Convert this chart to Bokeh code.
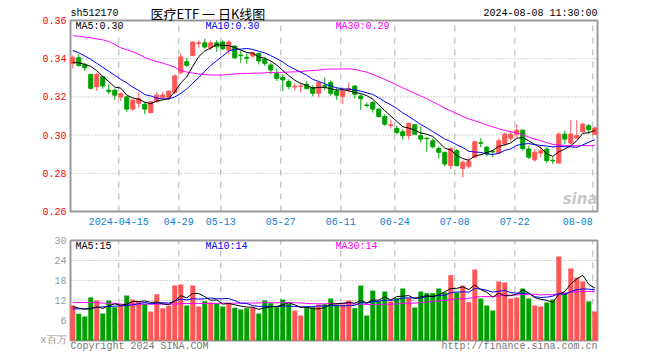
import numpy as np
import pandas as pd
from bokeh.plotting import figure
from bokeh.models import Range1d, Label, ColumnDataSource
from bokeh.core.properties import value
from bokeh.embed import file_html
from bokeh.resources import INLINE

# ---------------- data ----------------
opens = [0.3374,0.3405,0.3370,0.3318,0.3254,0.3306,0.3235,0.3235,0.3200,0.3200,
         0.3136,0.3167,0.3162,0.3118,0.3174,0.3197,0.3197,0.3223,0.3327,0.3384,
         0.3417,0.3480,0.3483,0.3457,0.3483,0.3487,0.3445,0.3466,0.3419,0.3407,
         0.3414,0.3428,0.3397,0.3367,0.3322,0.3301,0.3280,0.3252,0.3254,0.3266,
         0.3249,0.3219,0.3259,0.3275,0.3231,0.3202,0.3237,0.3257,0.3205,0.3158,
         0.3170,0.3136,0.3097,0.3050,0.3035,0.3017,0.2997,0.3054,0.2997,0.2984,
         0.2970,0.2930,0.2910,0.2840,0.2918,0.2826,0.2837,0.2884,0.2960,0.2936,
         0.2915,0.2906,0.2953,0.2983,0.3005,0.3026,0.2927,0.2871,0.2906,0.2927,
         0.2868,0.2854,0.3005,0.2958,0.2984,0.3017,0.3049,0.3005]
highs = [0.3417,0.3423,0.3379,0.3318,0.3327,0.3310,0.3266,0.3243,0.3223,0.3205,
         0.3188,0.3226,0.3174,0.3179,0.3226,0.3226,0.3235,0.3317,0.3428,0.3405,
         0.3492,0.3496,0.3504,0.3496,0.3497,0.3497,0.3496,0.3470,0.3440,0.3428,
         0.3435,0.3431,0.3410,0.3379,0.3348,0.3318,0.3292,0.3271,0.3275,0.3283,
         0.3261,0.3278,0.3301,0.3287,0.3249,0.3249,0.3275,0.3261,0.3214,0.3170,
         0.3179,0.3139,0.3110,0.3080,0.3049,0.3031,0.3066,0.3057,0.3045,0.2988,
         0.2983,0.2941,0.2913,0.2936,0.2927,0.2866,0.2884,0.2970,0.2983,0.2944,
         0.2924,0.2983,0.3014,0.3023,0.3057,0.3028,0.2944,0.2927,0.2944,0.2936,
         0.2884,0.3014,0.3023,0.3078,0.3078,0.3066,0.3057,0.3045]
lows = [0.3348,0.3358,0.3336,0.3240,0.3231,0.3243,0.3214,0.3184,0.3179,0.3122,
        0.3127,0.3144,0.3110,0.3113,0.3170,0.3188,0.3184,0.3214,0.3318,0.3358,
        0.3414,0.3457,0.3452,0.3445,0.3435,0.3445,0.3423,0.3400,0.3379,0.3374,
        0.3405,0.3370,0.3362,0.3318,0.3283,0.3231,0.3240,0.3235,0.3223,0.3240,
        0.3202,0.3197,0.3235,0.3205,0.3184,0.3162,0.3223,0.3191,0.3132,0.3144,
        0.3118,0.3092,0.3049,0.3035,0.3005,0.2976,0.2976,0.3000,0.2962,0.2913,
        0.2930,0.2878,0.2837,0.2823,0.2837,0.2779,0.2826,0.2878,0.2936,0.2889,
        0.2884,0.2901,0.2941,0.2965,0.2988,0.2918,0.2875,0.2861,0.2884,0.2854,
        0.2849,0.2849,0.2953,0.2953,0.2979,0.3014,0.3005,0.3000]
closes = [0.3405,0.3365,0.3353,0.3245,0.3318,0.3257,0.3228,0.3209,0.3217,0.3136,
          0.3183,0.3191,0.3136,0.3174,0.3209,0.3210,0.3230,0.3310,0.3409,0.3365,
          0.3487,0.3483,0.3461,0.3483,0.3463,0.3452,0.3487,0.3405,0.3416,0.3403,
          0.3431,0.3388,0.3376,0.3341,0.3297,0.3289,0.3254,0.3256,0.3257,0.3243,
          0.3219,0.3275,0.3256,0.3219,0.3209,0.3231,0.3243,0.3214,0.3191,0.3155,
          0.3136,0.3097,0.3057,0.3054,0.3014,0.2997,0.3061,0.3005,0.2979,0.2981,
          0.2939,0.2910,0.2849,0.2930,0.2840,0.2858,0.2863,0.2965,0.2957,0.2901,
          0.2912,0.2970,0.3005,0.3005,0.3026,0.2930,0.2884,0.2910,0.2918,0.2866,
          0.2865,0.3005,0.2979,0.3005,0.2997,0.3057,0.3028,0.3037]
volumes = [10.5,8.0,7.2,12.9,12.0,8.1,12.0,10.0,10.8,13.5,
           12.3,11.7,11.0,8.7,13.9,9.7,10.4,16.5,16.8,10.5,
           16.5,10.2,11.8,11.4,11.0,10.2,11.2,9.8,9.3,9.7,
           9.8,8.1,12.0,11.2,10.0,12.3,11.0,9.0,7.5,10.2,
           10.0,10.8,10.9,12.6,10.8,10.8,12.0,9.7,16.5,7.5,
           15.0,11.8,14.7,11.7,12.7,15.6,12.7,9.9,14.7,14.2,
           14.2,15.6,14.4,19.6,14.4,16.5,11.5,21.3,12.6,10.5,
           9.0,17.7,17.4,12.6,12.9,15.6,12.6,10.5,10.2,11.4,
           12.3,25.2,14.4,21.6,18.9,17.7,11.7,8.7]

# moving-average values at the left edge (their window reaches before the chart)
ma5_head = [0.3380, 0.3379, 0.3370, 0.3360]
ma10_head = [0.3443, 0.3431, 0.3414, 0.3397, 0.3376, 0.3355, 0.3334, 0.3313, 0.3292]
ma30_head = [0.3520, 0.3518, 0.3513, 0.3510, 0.3504, 0.3499, 0.3490, 0.3475, 0.3457, 0.3447,
             0.3436, 0.3423, 0.3407, 0.3395, 0.3385, 0.3377, 0.3367, 0.3355, 0.3338, 0.3330,
             0.3325, 0.3320, 0.3317, 0.3315, 0.3314, 0.3315, 0.3317, 0.3320, 0.3322]
vma5_head = [10.2, 9.7, 9.4, 9.5]
vma10_head = [9.5, 9.5, 9.5, 9.7, 9.9, 10.1, 10.2, 10.3, 10.4]
vma30_head = [11.4, 11.4, 11.4, 11.4, 11.4, 11.2, 11.2, 11.2, 10.9, 10.9,
              10.9, 10.9, 10.9, 10.9, 10.9, 10.9, 10.9, 10.9, 11.1, 11.1,
              11.1, 11.1, 11.1, 11.1, 11.1, 11.2, 11.2, 11.2, 11.2]

date_ticks = [8, 18, 25, 35, 45, 54, 64, 74, 87]
date_labels = ["2024-04-15", "04-29", "05-13", "05-27", "06-11", "06-24", "07-08", "07-22", "08-08"]
price_ticks = [0.26, 0.28, 0.30, 0.32, 0.34, 0.36]
price_labels = ["0.26", "0.28", "0.30", "0.32", "0.34", "0.36"]
price_grid = [0.28, 0.30, 0.32, 0.34]
vol_ticks = [0, 6, 12, 18, 24, 30]
vol_labels = ["x百万", "6", "12", "18", "24", "30"]
vol_grid = [6, 12, 18, 24]

# ---------------- layout constants (pixels) ----------------
W, H = 604, 354
FL, FR = 70, 597              # panels' left / right edge
P1T, P1B = 20, 211            # price panel top / bottom
P2T, P2B = 240, 340           # volume panel top / bottom
XL, XR = -0.05, 87.78         # panels' x extent in candle units
PMIN, PMAX = price_ticks[0], price_ticks[-1]
VMIN, VMAX = vol_ticks[0], vol_ticks[-1]

kx = (XR - XL) / (FR - FL)
kp = (PMAX - PMIN) / (P1B - P1T)
kv = (VMAX - VMIN) / (P2B - P2T)
x_range = Range1d(XL - FL * kx, XR + (W - FR) * kx)
y_range = Range1d(PMIN - (H - P1B) * kp, PMAX + P1T * kp)
vol_range = Range1d(VMIN - (H - P2B) * kv, VMAX + P2T * kv)

UP = "#ff5555"
DOWN = "#00a000"
MONO = "Liberation Mono"
GRID_V = "#b0b0b0"
GRID_H = "#aaaaaa"
BORDER = "#999999"

# ---------------- derived ----------------
n = len(closes)
xs = np.arange(n) + 0.33
o = np.array(opens); c = np.array(closes)
colors = [UP if cc >= oo else DOWN for oo, cc in zip(o, c)]


def mavg(vals, w, head):
    s = pd.Series(vals).rolling(w).mean().to_numpy()
    s[:w - 1] = head
    return s


src = ColumnDataSource(dict(x=xs, high=highs, low=lows,
                            top=np.maximum(o, c), bottom=np.minimum(o, c),
                            color=colors, vol=volumes,
                            ma5=mavg(closes, 5, ma5_head), ma10=mavg(closes, 10, ma10_head),
                            ma30=mavg(closes, 30, ma30_head),
                            vma5=mavg(volumes, 5, vma5_head), vma10=mavg(volumes, 10, vma10_head),
                            vma30=mavg(volumes, 30, vma30_head)))

p = figure(width=W, height=H, x_range=x_range, y_range=y_range,
           x_axis_location=None, y_axis_location=None,
           output_backend="svg", toolbar_location=None,
           min_border_left=0, min_border_right=0, min_border_top=0, min_border_bottom=0)
p.extra_y_ranges = {"vol": vol_range}
p.outline_line_color = None
p.xgrid.visible = False
p.ygrid.visible = False
p.background_fill_color = "white"
p.border_fill_color = "white"

# ----- price panel frame & grid -----
p.segment(x0=date_ticks, y0=PMIN, x1=date_ticks, y1=PMAX, line_color=GRID_V, line_dash="6 6", line_width=1)
p.segment(x0=XL, y0=price_grid, x1=XR, y1=price_grid, line_color=GRID_H, line_dash="1 2", line_width=1)
p.quad(left=XL, right=XR, bottom=PMIN, top=PMAX, fill_color=None, line_color=BORDER, line_width=2)

# ----- volume panel frame & grid -----
p.segment(x0=date_ticks, y0=VMIN, x1=date_ticks, y1=VMAX, line_color=GRID_V, line_dash="6 6",
          line_width=1, y_range_name="vol")
p.segment(x0=XL, y0=vol_grid, x1=XR, y1=vol_grid, line_color=GRID_H, line_dash="1 2",
          line_width=1, y_range_name="vol")
p.quad(left=XL, right=XR, bottom=VMIN, top=VMAX, fill_color=None, line_color=BORDER,
       line_width=2, y_range_name="vol")

# ----- candles -----
p.segment(x0="x", y0="high", x1="x", y1="low", color="color", line_width=1, source=src)
p.vbar(x="x", width=0.68, top="top", bottom="bottom", fill_color="color",
       line_color="color", line_width=1, source=src)
p.line("x", "ma30", color="#ff00ff", line_width=1, source=src)
p.line("x", "ma10", color="#0000ff", line_width=1, source=src)
p.line("x", "ma5", color="#000000", line_width=1, source=src)

# ----- volume -----
p.vbar(x="x", width=0.83, top="vol", bottom=0, fill_color="color", line_color=None,
       source=src, y_range_name="vol")
p.line("x", "vma30", color="#ff00ff", line_width=1, source=src, y_range_name="vol")
p.line("x", "vma10", color="#0000ff", line_width=1, source=src, y_range_name="vol")
p.line("x", "vma5", color="#000000", line_width=1, source=src, y_range_name="vol")

# ----- tick labels -----
p.text(x=XL, y=price_ticks, text=price_labels, text_align="right", text_baseline="middle",
       x_offset=-4, text_font=value(MONO), text_font_size="10px", text_color="#ff0000")
p.text(x=date_ticks[:-1], y=PMIN, text=date_labels[:-1], text_align="center", text_baseline="middle",
       y_offset=10, text_font=value(MONO), text_font_size="10px", text_color="#0a7fd0")
p.text(x=date_ticks[-1:], y=PMIN, text=date_labels[-1:], text_align="right", text_baseline="middle",
       y_offset=10, text_font=value(MONO), text_font_size="10px", text_color="#0a7fd0")
p.text(x=XL, y=vol_ticks, text=vol_labels, text_align="right", text_baseline="middle",
       x_offset=-4, text_font=value(MONO), text_font_size="10px", text_color="#999999",
       y_range_name="vol")


def lab(sx, page_y, text, color, size="10px", font=MONO, align="left", style="normal"):
    p.add_layout(Label(x=sx, y=H - page_y, x_units="screen", y_units="screen", text=text,
                       text_color=color, text_font_size=size, text_font=font,
                       text_align=align, text_baseline="middle", text_font_style=style))


lab(FL, 13, "sh512170", "#000000")
lab(150, 12.5, "医疗ETF 一 日K线图", "#000000", size="13px", font="Noto Sans CJK SC")
lab(FR, 13, "2024-08-08 11:30:00", "#000000", align="right")
lab(FL + 5, 26, "MA5:0.30", "#000000")
lab(FL + 135, 26, "MA10:0.30", "#0000ff")
lab(FL + 265, 26, "MA30:0.29", "#ff00ff")
lab(FR, 198, "sina", "#c8c8c8", size="15px", font="DejaVu Sans", align="right", style="bold italic")
lab(FL + 5, 246, "MA5:15", "#000000")
lab(FL + 135, 246, "MA10:14", "#0000ff")
lab(FL + 265, 246, "MA30:14", "#ff00ff")
lab(FL, 346, "Copyright 2024 SINA.COM", "#777777")
lab(FR, 346, "http://finance.sina.com.cn", "#777777", align="right")

open("out.html", "w").write(file_html(p, INLINE))
